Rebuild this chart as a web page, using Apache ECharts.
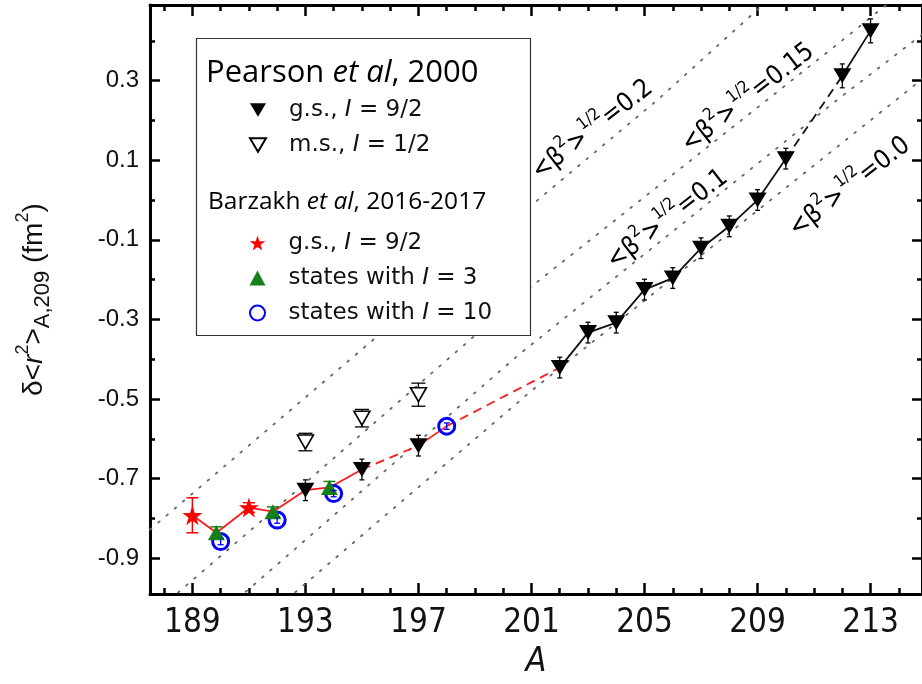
<!DOCTYPE html>
<html>
<head>
<meta charset="utf-8">
<script src="https://cdn.jsdelivr.net/npm/echarts@6/dist/echarts.min.js"></script>
<style>
  html, body { margin: 0; padding: 0; background: #fff; }
  #chart { width: 922px; height: 684px; }
</style>
</head>
<body>
<div id="chart"></div>
<script>
// ---- Pearson et al. 2000: ground states, I = 9/2 ----
const gsPearsonA   = [193, 195, 197, 202, 203, 204, 205, 206, 207, 208, 209, 210, 212, 213];
const gsPearsonR2  = [-0.729, -0.677, -0.617, -0.421, -0.333, -0.308, -0.225, -0.196, -0.121, -0.066, 0.000, 0.104, 0.312, 0.425];
const gsPearsonErr = [0.026, 0.026, 0.026, 0.026, 0.026, 0.026, 0.026, 0.026, 0.026, 0.026, 0.026, 0.026, 0.03, 0.03];

// ---- Pearson et al. 2000: isomers, I = 1/2 ----
const msPearsonA   = [193, 195, 197];
const msPearsonR2  = [-0.608, -0.548, -0.489];
const msPearsonErr = [0.022, 0.022, 0.029];

// ---- Barzakh et al. 2016-2017 ----
const gsBarzakhA   = [189, 191];
const gsBarzakhR2  = [-0.792, -0.7725];
const gsBarzakhErr = [0.044, 0.012];

const spin3A   = [189.85, 191.85, 193.85];
const spin3R2  = [-0.836, -0.783, -0.722];
const spin3Err = [0.015, 0.012, 0.015];

const spin10A   = [190, 192, 194, 198];
const spin10R2  = [-0.858, -0.804, -0.7375, -0.568];
const spin10Err = [0.008, 0.008, 0.008, 0.008];

// ---- connecting trends ('s' solid / 'd' dashed, one entry per segment) ----
const trendRedA      = [189, 189.85, 191, 191.85, 193, 193.85, 195, 197, 198, 202];
const trendRedR2     = [-0.792, -0.836, -0.7725, -0.783, -0.729, -0.722, -0.677, -0.617, -0.568, -0.421];
const trendRedStyle  = ['s', 's', 's', 's', 's', 's', 'd', 's', 'd'];

const trendBlackA     = [202, 203, 204, 205, 206, 207, 208, 209, 210, 212, 213];
const trendBlackR2    = [-0.421, -0.333, -0.308, -0.225, -0.196, -0.121, -0.066, 0.000, 0.104, 0.312, 0.425];
const trendBlackStyle = ['s', 's', 's', 's', 's', 's', 's', 's', 'd', 's'];

// ---- iso-deformation lines <beta^2>^(1/2) ----
const betaNames = ['0.2', '0.15', '0.1', '0.0'];
const beta02A  = [187.5, 201.0, 205.5, 209.4];
const beta02R2 = [-0.828, -0.013, 0.254, 0.504];
const beta015A  = [188.2, 191.74, 201.02, 211.96, 213.9];
const beta015R2 = [-1.004, -0.788, -0.216, 0.399, 0.51];
const beta01A  = [190.6, 200.56, 211.86, 214.9];
const beta01R2 = [-1.002, -0.388, 0.254, 0.42];
const beta00A  = [192.35, 201.02, 214.9];
const beta00R2 = [-1.003, -0.478, 0.308];

// ---- axes ----
const xTicks      = [189, 193, 197, 201, 205, 209, 213];
const xTickLabels = ['189', '193', '197', '201', '205', '209', '213'];
const xMinorTicks = [188, 190, 191, 192, 194, 195, 196, 198, 199, 200, 202, 203, 204, 206, 207, 208, 210, 211, 212, 214];
const yTicks      = [-0.9, -0.7, -0.5, -0.3, -0.1, 0.1, 0.3];
const yTickLabels = ['-0.9', '-0.7', '-0.5', '-0.3', '-0.1', '0.1', '0.3'];
const yMinorTicks = [-0.8, -0.6, -0.4, -0.2, 0.0, 0.2, 0.4];

const X_MIN = 187.5, X_MAX = 214.82;
const Y_MIN = -0.99, Y_MAX = 0.49;

const zip = (a, b) => a.map((v, i) => [v, b[i]]);
const errData = (a, b, e) => a.map((v, i) => [v, b[i] - e[i], b[i] + e[i]]);
const pick = (ticks, labels) => v => {
  const i = ticks.findIndex(t => Math.abs(t - v) < 1e-6);
  return i >= 0 ? labels[i] : '';
};

const STAR = 'path://M50,2 L61.2,36.6 L97.6,36.6 L68.2,58 L79.4,92.6 L50,71.2 L20.6,92.6 L31.8,58 L2.4,36.6 L38.8,36.6 Z';
const DOWN_TRI = 'path://M0,0 L20,0 L10,17 Z';
const NARROW = "'Liberation Sans Narrow', 'DejaVu Sans Condensed', 'Liberation Sans', sans-serif";
const SANS = "'Liberation Sans', Arial, sans-serif";

function xAxisDef(position, ticks, len, labelled) {
  return {
    type: 'value', position, min: X_MIN, max: X_MAX,
    axisLine: { show: labelled !== null, onZero: false, lineStyle: { color: '#000', width: 3 } },
    axisTick: { show: true, inside: true, length: len, customValues: ticks, lineStyle: { color: '#000', width: 2.5 } },
    axisLabel: labelled ? {
      show: true, customValues: xTicks, formatter: pick(xTicks, xTickLabels),
      fontFamily: NARROW, fontSize: 33, color: '#111', margin: 13
    } : { show: false },
    splitLine: { show: false }
  };
}
function yAxisDef(position, ticks, len, labelled) {
  return {
    type: 'value', position, min: Y_MIN, max: Y_MAX,
    axisLine: { show: labelled !== null, onZero: false, lineStyle: { color: '#000', width: 3 } },
    axisTick: { show: true, inside: true, length: len, customValues: ticks, lineStyle: { color: '#000', width: 2.5 } },
    axisLabel: labelled ? {
      show: true, customValues: yTicks, formatter: pick(yTicks, yTickLabels),
      fontFamily: SANS, fontSize: 24, color: '#111', margin: 11
    } : { show: false },
    splitLine: { show: false }
  };
}

const xAxes = [
  Object.assign(xAxisDef('bottom', xTicks, 11, true), {
    name: 'A', nameLocation: 'middle', nameGap: 44,
    nameTextStyle: { fontFamily: NARROW, fontStyle: 'italic', fontSize: 34, color: '#111' }
  }),
  xAxisDef('bottom', xMinorTicks, 6, null),
  xAxisDef('top', xTicks, 11, false),
  xAxisDef('top', xMinorTicks, 6, null)
];
const yAxes = [
  Object.assign(yAxisDef('left', yTicks, 10, true), {
    name: '{d|δ<}{r|r}{p|2}{d|>}{b|A,209}{d| (fm}{p|2}{d|)}',
    nameLocation: 'middle', nameGap: 96,
    nameTextStyle: {
      rich: {
        d: { fontFamily: SANS, fontSize: 28, color: '#111', lineHeight: 40, verticalAlign: 'middle' },
        r: { fontFamily: SANS, fontSize: 28, fontStyle: 'italic', color: '#111', lineHeight: 40, verticalAlign: 'middle' },
        p: { fontFamily: SANS, fontSize: 18, color: '#111', lineHeight: 26, verticalAlign: 'top' },
        b: { fontFamily: SANS, fontSize: 22, color: '#111', lineHeight: 22, verticalAlign: 'bottom' }
      }
    }
  }),
  yAxisDef('left', yMinorTicks, 5, null),
  yAxisDef('right', yTicks, 10, false),
  yAxisDef('right', yMinorTicks, 5, null)
];

// split a path into runs of solid / dashed segments
function trendSeries(A, R2, styles, color, dash) {
  const out = [];
  let start = 0;
  for (let i = 1; i <= styles.length; i++) {
    if (i === styles.length || styles[i] !== styles[start]) {
      out.push({
        type: 'line', xAxisIndex: 0, yAxisIndex: 0, z: 3, silent: true,
        showSymbol: false, symbol: 'none', clip: true,
        lineStyle: { color, width: 1.8, type: styles[start] === 'd' ? dash : 'solid' },
        data: zip(A.slice(start, i + 1), R2.slice(start, i + 1))
      });
      start = i;
    }
  }
  return out;
}

function betaSeries(A, R2) {
  return {
    type: 'line', xAxisIndex: 0, yAxisIndex: 0, z: 1, silent: true,
    showSymbol: false, symbol: 'none', clip: true,
    lineStyle: { color: '#666', width: 1.8, type: [1.8, 9], cap: 'round' },
    data: zip(A, R2)
  };
}

function errorSeries(data, color, cap, width, z) {
  return {
    type: 'custom', xAxisIndex: 0, yAxisIndex: 0, z, silent: true,
    encode: { x: 0, y: [1, 2] },
    data,
    renderItem(params, api) {
      const a = api.value(0);
      const top = api.coord([a, api.value(2)]);
      const bot = api.coord([a, api.value(1)]);
      const st = { stroke: color, lineWidth: width };
      return {
        type: 'group',
        children: [
          { type: 'line', shape: { x1: top[0], y1: top[1], x2: bot[0], y2: bot[1] }, style: st },
          { type: 'line', shape: { x1: top[0] - cap, y1: top[1], x2: top[0] + cap, y2: top[1] }, style: st },
          { type: 'line', shape: { x1: bot[0] - cap, y1: bot[1], x2: bot[0] + cap, y2: bot[1] }, style: st }
        ]
      };
    }
  };
}

const seriesNames  = ['Pearson gs', 'Pearson ms', 'Barzakh gs', 'Barzakh I3', 'Barzakh I10'];
const seriesLabels = [
  '{n|g.s., }{i|I}{n| = 9/2}',
  '{n|m.s., }{i|I}{n| = 1/2}',
  '{n|g.s., }{i|I}{n| = 9/2}',
  '{n|states with }{i|I}{n| = 3}',
  '{n|states with }{i|I}{n| = 10}'
];

const series = [
  betaSeries(beta02A, beta02R2),
  betaSeries(beta015A, beta015R2),
  betaSeries(beta01A, beta01R2),
  betaSeries(beta00A, beta00R2),
  ...trendSeries(trendRedA, trendRedR2, trendRedStyle, '#ff1a1a', [9, 6]),
  ...trendSeries(trendBlackA, trendBlackR2, trendBlackStyle, '#111', [9, 6]),
  errorSeries(errData(gsPearsonA, gsPearsonR2, gsPearsonErr), '#000', 2.5, 1.3, 4),
  errorSeries(errData(msPearsonA, msPearsonR2, msPearsonErr), '#000', 7, 1.3, 4),
  {
    name: seriesNames[4], type: 'scatter', z: 5, symbol: 'circle', symbolSize: 16,
    itemStyle: { color: 'rgba(255,255,255,0)', borderColor: '#0000ff', borderWidth: 3, opacity: 1 },
    data: zip(spin10A, spin10R2)
  },
  {
    name: seriesNames[3], type: 'scatter', z: 6, symbol: 'triangle', symbolSize: [17, 15],
    itemStyle: { color: '#158015', opacity: 1 },
    data: zip(spin3A, spin3R2)
  },
  {
    name: seriesNames[2], type: 'scatter', z: 6, symbol: STAR, symbolSize: 20,
    itemStyle: { color: '#ff0000', opacity: 1 },
    data: zip(gsBarzakhA, gsBarzakhR2)
  },
  {
    name: seriesNames[0], type: 'scatter', z: 6, symbol: DOWN_TRI, symbolSize: [18, 15],
    itemStyle: { color: '#000', opacity: 1 },
    data: zip(gsPearsonA, gsPearsonR2)
  },
  {
    name: seriesNames[1], type: 'scatter', z: 6, symbol: DOWN_TRI, symbolSize: [16, 14],
    itemStyle: { color: '#fff', borderColor: '#000', borderWidth: 1.6, opacity: 1 },
    data: zip(msPearsonA, msPearsonR2)
  },
  errorSeries(errData(spin10A, spin10R2, spin10Err), '#0000ff', 3, 1.3, 7),
  errorSeries(errData(spin3A, spin3R2, spin3Err), '#158015', 6, 1.5, 7),
  errorSeries(errData(gsBarzakhA, gsBarzakhR2, gsBarzakhErr), '#ff0000', 6, 1.5, 7)
];

const legendText = {
  fontFamily: "'DejaVu Sans', sans-serif", fontSize: 23, color: '#111', lineHeight: 26,
  padding: [0, 0, 0, 18],
  rich: {
    n: { fontFamily: "'DejaVu Sans', sans-serif", fontSize: 23, color: '#111', lineHeight: 26 },
    i: { fontFamily: "'DejaVu Sans', sans-serif", fontSize: 23, fontStyle: 'italic', color: '#111', lineHeight: 26 }
  }
};
const legendFormatter = name => seriesLabels[seriesNames.indexOf(name)];
const legendBase = {
  orient: 'vertical', left: 249, itemWidth: 16, itemHeight: 15, itemGap: 9, padding: 0,
  selectedMode: false, z: 60, textStyle: legendText, formatter: legendFormatter
};

const chart = echarts.init(document.getElementById('chart'), null, { renderer: 'canvas' });
chart.setOption({
  animation: false,
  backgroundColor: '#fff',
  grid: { left: 150, top: 5, right: -2, height: 592, containLabel: false },
  xAxis: xAxes,
  yAxis: yAxes,
  legend: [
    Object.assign({}, legendBase, { top: 97, data: seriesNames.slice(0, 2) }),
    Object.assign({}, legendBase, { top: 230, data: seriesNames.slice(2) })
  ],
  series
});

// legend frame, group headings and iso-deformation labels
const betaLabelAt = [[203.1, 0.182], [208.6, 0.262], [205.75, -0.043], [212.2, 0.038]];
const betaRich = {
  t: { fontFamily: NARROW, fontSize: 26, color: '#222', lineHeight: 32, verticalAlign: 'bottom' },
  s: { fontFamily: NARROW, fontSize: 17, color: '#222', lineHeight: 20, verticalAlign: 'top' }
};
const graphics = [
  {
    type: 'rect', z: 50, silent: true,
    shape: { x: 196.5, y: 38.5, width: 334, height: 297 },
    style: { fill: '#fff', stroke: '#333', lineWidth: 1.2 }
  },
  {
    type: 'text', z: 61, x: 206, y: 73, silent: true,
    style: {
      text: '{n|Pearson }{i|et al}{n|, 2000}', align: 'left', verticalAlign: 'middle',
      rich: {
        n: { fontFamily: "'Open Sans', sans-serif", fontSize: 31, color: '#000' },
        i: { fontFamily: "'Open Sans', sans-serif", fontSize: 31, fontStyle: 'italic', color: '#000' }
      }
    }
  },
  {
    type: 'text', z: 61, x: 208, y: 202, silent: true,
    style: {
      text: '{n|Barzakh }{i|et al}{n|, 2016-2017}', align: 'left', verticalAlign: 'middle',
      rich: {
        n: { fontFamily: "'Open Sans', sans-serif", fontSize: 24.5, color: '#000' },
        i: { fontFamily: "'Open Sans', sans-serif", fontSize: 24.5, fontStyle: 'italic', color: '#000' }
      }
    }
  }
];
betaNames.forEach((b, i) => {
  const p = chart.convertToPixel({ xAxisIndex: 0, yAxisIndex: 0 }, betaLabelAt[i]);
  graphics.push({
    type: 'text', z: 20, x: p[0], y: p[1], rotation: 38 * Math.PI / 180, silent: true,
    style: {
      text: '{t|<β}{s|2}{t|>}{s|1/2}{t|=' + b + '}',
      align: 'center', verticalAlign: 'middle', rich: betaRich
    }
  });
});
chart.setOption({ graphic: graphics });
</script>
</body>
</html>
